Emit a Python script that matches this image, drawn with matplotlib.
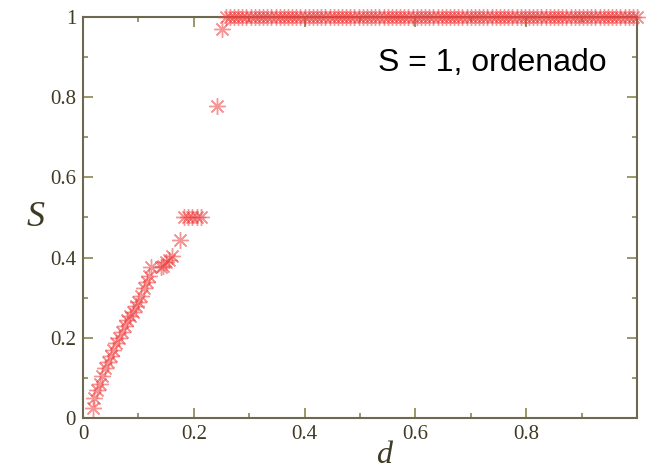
import matplotlib
matplotlib.use("Agg")
import matplotlib.pyplot as plt
from matplotlib.ticker import MultipleLocator

# rising branch
rise_d = [0.0175, 0.02, 0.025, 0.03, 0.035, 0.04, 0.045, 0.05, 0.055, 0.06,
          0.065, 0.07, 0.075, 0.08, 0.085, 0.09, 0.095, 0.10, 0.105, 0.11,
          0.115, 0.12, 0.1225, 0.14, 0.145, 0.15, 0.155, 0.16, 0.175]
rise_s = [0.025, 0.05, 0.07, 0.085, 0.105, 0.125, 0.14, 0.155, 0.17, 0.188,
          0.20, 0.215, 0.23, 0.245, 0.255, 0.265, 0.28, 0.29, 0.305, 0.325,
          0.34, 0.355, 0.377, 0.377, 0.38, 0.39, 0.395, 0.405, 0.444]

# half-ordered step and the jump
step_d = [0.1825, 0.19, 0.1975, 0.205, 0.2125, 0.2425, 0.25]
step_s = [0.50, 0.50, 0.50, 0.50, 0.50, 0.778, 0.969]

# ordered plateau S = 1
plateau_d = [0.2575, 0.265, 0.2725, 0.28, 0.2875, 0.295, 0.3025, 0.31, 0.3175, 0.325,
             0.3325, 0.34, 0.3475, 0.355, 0.3625, 0.37, 0.3775, 0.385, 0.3925, 0.40,
             0.4075, 0.415, 0.4225, 0.43, 0.4375, 0.445, 0.4525, 0.46, 0.4675, 0.475,
             0.4825, 0.49, 0.4975, 0.505, 0.5125, 0.52, 0.5275, 0.535, 0.5425, 0.55,
             0.5575, 0.565, 0.5725, 0.58, 0.5875, 0.595, 0.6025, 0.61, 0.6175, 0.625,
             0.6325, 0.64, 0.6475, 0.655, 0.6625, 0.67, 0.6775, 0.685, 0.6925, 0.70,
             0.7075, 0.715, 0.7225, 0.73, 0.7375, 0.745, 0.7525, 0.76, 0.7675, 0.775,
             0.7825, 0.79, 0.7975, 0.805, 0.8125, 0.82, 0.8275, 0.835, 0.8425, 0.85,
             0.8575, 0.865, 0.8725, 0.88, 0.8875, 0.895, 0.9025, 0.91, 0.9175, 0.925,
             0.9325, 0.94, 0.9475, 0.955, 0.9625, 0.97, 0.9775, 0.985, 0.9925, 1.0]
plateau_s = [1.0] * len(plateau_d)

xticks = [0, 0.2, 0.4, 0.6, 0.8]
xticklabels = ["0", "0.2", "0.4", "0.6", "0.8"]
yticks = [0, 0.2, 0.4, 0.6, 0.8, 1.0]
yticklabels = ["0", "0.2", "0.4", "0.6", "0.8", "1"]

red = "#ee4040"
axis_col = "#6f6850"
tick_col = "#8a8450"
label_col = "#3e3a25"
serif = "Liberation Serif"

fig = plt.figure(figsize=(6.51, 4.73), dpi=100)
ax = fig.add_axes([83 / 651, 55 / 473, 554 / 651, 401 / 473])

for d, s in [(rise_d, rise_s), (step_d, step_s), (plateau_d, plateau_s)]:
    ax.plot(d, s, linestyle="none", marker=(8, 2, 0), markersize=12,
            markeredgewidth=1.0, color=red, alpha=0.55, clip_on=False, zorder=3)

ax.set_xlim(0, 1)
ax.set_ylim(0, 1)

for spine in ax.spines.values():
    spine.set_color(axis_col)
    spine.set_linewidth(1.5)

ax.set_xticks(xticks)
ax.set_xticklabels(xticklabels)
ax.set_yticks(yticks)
ax.set_yticklabels(yticklabels)
ax.xaxis.set_minor_locator(MultipleLocator(0.1))
ax.yaxis.set_minor_locator(MultipleLocator(0.1))
ax.tick_params(which="both", direction="in", top=True, right=True,
               color=tick_col, width=1.2, labelcolor=label_col)
ax.tick_params(which="major", length=7, labelsize=15, pad=5)
ax.tick_params(which="minor", length=3.5)
for lab in ax.get_xticklabels() + ax.get_yticklabels():
    lab.set_fontfamily(serif)

ax.text(-0.085, 0.50, "S", transform=ax.transAxes, ha="center", va="center",
        fontsize=26, fontstyle="italic", family=serif, color=label_col)
ax.text(0.543, -0.058, "d", transform=ax.transAxes, ha="center", va="top",
        fontsize=23, fontstyle="italic", family=serif, color=label_col)

ax.text(0.946, 0.865, "S = 1, ordenado", transform=ax.transAxes, ha="right",
        va="baseline", fontsize=23, family="Liberation Sans", color="black")

fig.savefig("out.png", dpi=100)
